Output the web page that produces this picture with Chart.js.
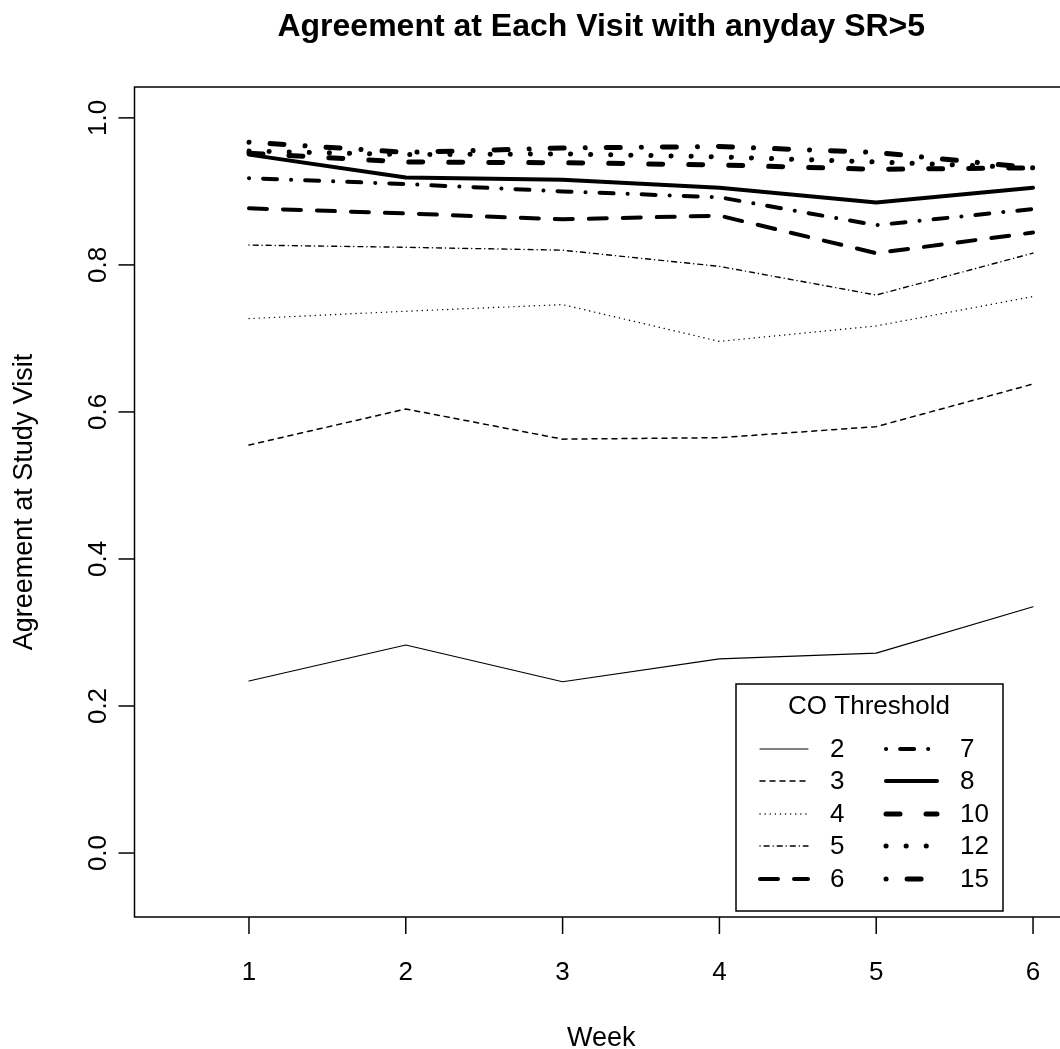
<!DOCTYPE html>
<html>
<head>
<meta charset="utf-8">
<script src="https://cdn.jsdelivr.net/npm/chart.js@4.4.1/dist/chart.umd.min.js"></script>
<style>
  html, body { margin: 0; padding: 0; background: #fff; overflow: hidden; }
  #wrap { position: absolute; left: 0; top: 0; width: 1080px; height: 1049px; }
</style>
</head>
<body>
<div id="wrap"><canvas id="agreeChart"></canvas></div>
<script>
// weeks on the x axis
const weeks = [1, 2, 3, 4, 5, 6];
const xTicks = [1, 2, 3, 4, 5, 6];
const yTicks = [0.0, 0.2, 0.4, 0.6, 0.8, 1.0];

// agreement per CO threshold
const thresholds = ['2', '3', '4', '5', '6', '7', '8', '10', '12', '15'];
const co2  = [0.234, 0.283, 0.233, 0.264, 0.272, 0.335];
const co3  = [0.555, 0.604, 0.563, 0.565, 0.580, 0.638];
const co4  = [0.727, 0.737, 0.746, 0.696, 0.717, 0.757];
const co5  = [0.827, 0.824, 0.820, 0.798, 0.759, 0.816];
const co6  = [0.877, 0.870, 0.862, 0.867, 0.816, 0.844];
const co7  = [0.918, 0.910, 0.900, 0.892, 0.854, 0.876];
const co8  = [0.950, 0.919, 0.916, 0.905, 0.885, 0.905];
const co10 = [0.952, 0.940, 0.939, 0.936, 0.930, 0.932];
const co12 = [0.955, 0.950, 0.951, 0.947, 0.940, 0.932];
const co15 = [0.967, 0.953, 0.959, 0.961, 0.953, 0.932];

const series = [co2, co3, co4, co5, co6, co7, co8, co10, co12, co15];

// line styles (width, dash) for each threshold
const styles = [
  { w: 1.2, dash: [] },
  { w: 1.5, dash: [5, 5] },
  { w: 1.4, dash: [0.1, 5] },
  { w: 1.4, dash: [0.1, 4, 5, 4] },
  { w: 4,   dash: [18, 16] },
  { w: 4,   dash: [0.1, 14, 14, 14] },
  { w: 4,   dash: [] },
  { w: 5,   dash: [14, 26] },
  { w: 5,   dash: [0.1, 20] },
  { w: 5,   dash: [0.1, 21, 14, 21] }
];

const FONT = '"Liberation Sans", Arial, Helvetica, sans-serif';

const datasets = series.map((vals, i) => ({
  label: thresholds[i],
  data: weeks.map((w, j) => ({ x: w, y: vals[j] })),
  borderColor: '#000',
  borderWidth: styles[i].w,
  borderDash: styles[i].dash,
  borderCapStyle: 'round',
  borderJoinStyle: 'round',
  pointRadius: 0,
  fill: false,
  tension: 0
}));

// frame, axes, titles and legend in the R base graphics look
const basePlot = {
  id: 'basePlot',
  afterDraw(chart) {
    const ctx = chart.ctx;
    const area = chart.chartArea;
    const xs = chart.scales.x;
    const ys = chart.scales.y;
    const midX = (area.left + area.right) / 2;
    ctx.save();
    ctx.strokeStyle = '#000';
    ctx.fillStyle = '#000';
    ctx.setLineDash([]);
    ctx.lineWidth = 1.5;
    ctx.strokeRect(area.left, area.top, area.right - area.left, area.bottom - area.top);

    // x axis
    ctx.font = '26px ' + FONT;
    ctx.textAlign = 'center';
    ctx.textBaseline = 'alphabetic';
    xTicks.forEach(t => {
      const px = xs.getPixelForValue(t);
      ctx.beginPath();
      ctx.moveTo(px, area.bottom);
      ctx.lineTo(px, area.bottom + 17);
      ctx.stroke();
      ctx.fillText(String(t), px, 980);
    });

    // y axis
    ctx.textBaseline = 'middle';
    yTicks.forEach(t => {
      const py = ys.getPixelForValue(t);
      ctx.beginPath();
      ctx.moveTo(area.left, py);
      ctx.lineTo(area.left - 16, py);
      ctx.stroke();
      ctx.save();
      ctx.translate(area.left - 36, py);
      ctx.rotate(-Math.PI / 2);
      ctx.fillText(t.toFixed(1), 0, 0);
      ctx.restore();
    });

    // titles
    ctx.textBaseline = 'alphabetic';
    ctx.font = 'bold 32px ' + FONT;
    ctx.fillText('Agreement at Each Visit with anyday SR>5', midX, 36);
    ctx.font = '27px ' + FONT;
    ctx.fillText('Week', midX, 1046);
    ctx.save();
    ctx.translate(25, 502);
    ctx.rotate(-Math.PI / 2);
    ctx.textBaseline = 'middle';
    ctx.fillText('Agreement at Study Visit', 0, 0);
    ctx.restore();

    // legend
    ctx.font = '26px ' + FONT;
    ctx.textBaseline = 'middle';
    ctx.lineWidth = 1.5;
    ctx.strokeRect(736, 684, 267, 227);
    ctx.fillText('CO Threshold', 869, 707);
    ctx.textAlign = 'left';
    const rowY = [749, 781, 814, 846, 879];
    const cols = [{ x0: 760, x1: 808, tx: 830 }, { x0: 886, x1: 937, tx: 960 }];
    thresholds.forEach((lab, i) => {
      const c = cols[Math.floor(i / 5)];
      const y = rowY[i % 5];
      ctx.save();
      ctx.lineWidth = styles[i].w;
      ctx.setLineDash(styles[i].dash);
      ctx.lineCap = 'round';
      ctx.beginPath();
      ctx.moveTo(c.x0, y);
      ctx.lineTo(c.x1, y);
      ctx.stroke();
      ctx.restore();
      ctx.fillText(lab, c.tx, y + 1);
    });
    ctx.restore();
  }
};

new Chart(document.getElementById('agreeChart'), {
  type: 'line',
  data: { datasets: datasets },
  options: {
    responsive: true,
    maintainAspectRatio: false,
    animation: false,
    layout: { padding: { left: 134.5, top: 87, right: 12, bottom: 132 } },
    scales: {
      x: { type: 'linear', min: 0.27, max: 6.223, display: false },
      y: { type: 'linear', min: -0.087, max: 1.042, display: false }
    },
    plugins: {
      legend: { display: false },
      tooltip: { enabled: false },
      title: { display: false }
    }
  },
  plugins: [basePlot]
});
</script>
</body>
</html>
